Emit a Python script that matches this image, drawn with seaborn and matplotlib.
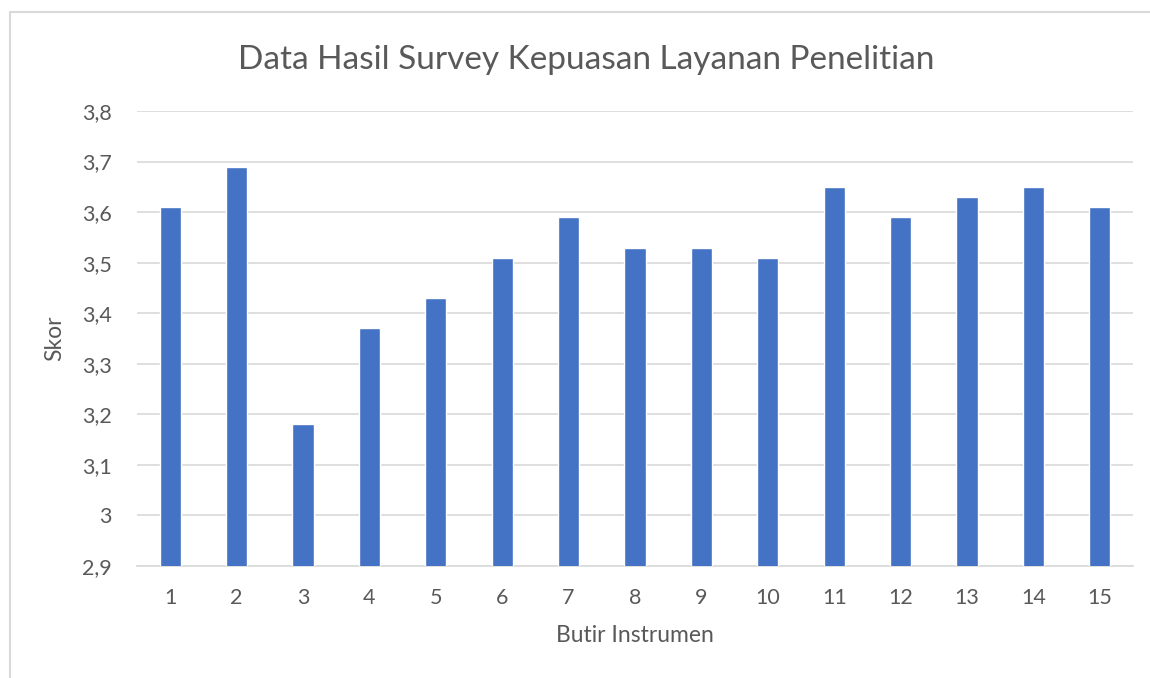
import matplotlib
matplotlib.use('Agg')
import matplotlib.pyplot as plt
import seaborn as sns
import pandas as pd
from matplotlib.patches import Rectangle

# data
butir = [str(i) for i in range(1, 16)]
skor = [3.61, 3.69, 3.18, 3.37, 3.43, 3.51, 3.59, 3.53, 3.53, 3.51, 3.65, 3.59, 3.63, 3.65, 3.61]
y_ticks = [2.9, 3.0, 3.1, 3.2, 3.3, 3.4, 3.5, 3.6, 3.7, 3.8]
y_labels = ['2,9', '3', '3,1', '3,2', '3,3', '3,4', '3,5', '3,6', '3,7', '3,8']

df = pd.DataFrame({'Butir Instrumen': butir, 'Skor': skor})

sns.set_style('white')
plt.rcParams['font.family'] = ['Lato', 'DejaVu Sans']
text_color = '#595959'

fig = plt.figure(figsize=(11.5, 6.78), dpi=100)
ax = fig.add_axes([137 / 1150, 1 - 566 / 678, (1133 - 137) / 1150, (566 - 111) / 678])

# chart border
fig.patches.append(Rectangle((10 / 1150, -0.1), 1.2, 1 - 12 / 678 + 0.1, transform=fig.transFigure,
                             fill=False, edgecolor='#d9d9d9', linewidth=1.5, zorder=0))

sns.barplot(data=df, x='Butir Instrumen', y='Skor', color='#4472c4', width=0.32,
            saturation=1, ax=ax, zorder=3)

ax.set_ylim(2.9, 3.8)
ax.set_yticks(y_ticks)
ax.set_yticklabels(y_labels)
ax.grid(axis='y', color='#d9d9d9', linewidth=1.2, zorder=0)
ax.set_axisbelow(True)
for s in ['top', 'right', 'left']:
    ax.spines[s].set_visible(False)
ax.spines['bottom'].set_color('#d9d9d9')
ax.spines['bottom'].set_linewidth(1.2)

ax.tick_params(axis='both', length=0, labelsize=15.5, colors=text_color)
ax.tick_params(axis='x', pad=16)
ax.tick_params(axis='y', pad=18)
ax.set_xlabel('Butir Instrumen', fontsize=16.5, color=text_color, labelpad=12)
ax.set_ylabel('Skor', fontsize=16.5, color=text_color, labelpad=12)

# title is centred on the whole chart box, not on the plot area
fig.text(586 / 1150, 1 - 60 / 678, 'Data Hasil Survey Kepuasan Layanan Penelitian',
         fontsize=24, color=text_color, ha='center', va='center')

fig.savefig('out.png', dpi=100)
